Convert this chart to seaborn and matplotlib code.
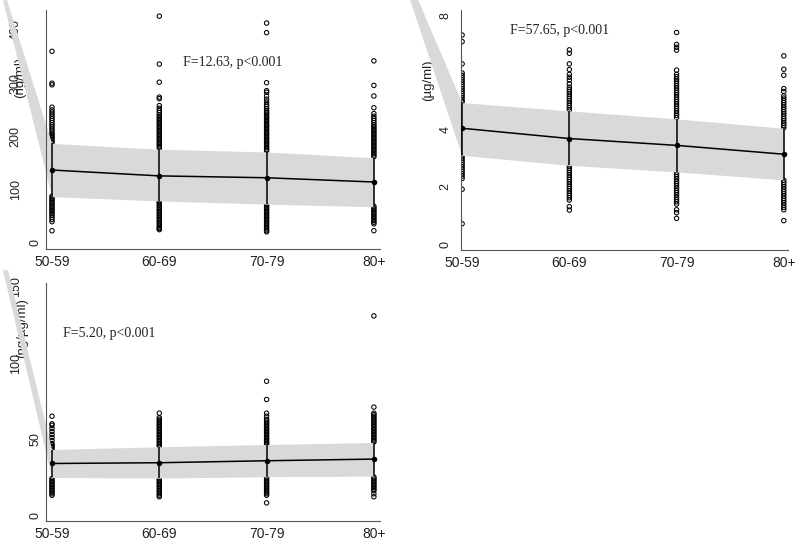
import numpy as np
import pandas as pd
import matplotlib
matplotlib.use("Agg")
import matplotlib.pyplot as plt
import seaborn as sns
from matplotlib.patches import Polygon
from matplotlib.transforms import ScaledTranslation

sns.set_theme(style="white")
plt.rcParams["font.family"] = ["Liberation Sans", "DejaVu Sans"]

age_groups = ["50-59", "60-69", "70-79", "80+"]

# panel 1: (ng/ml)
p1_mean = [137, 126, 122.5, 114.5]
p1_upper = [187, 176, 171, 160]
p1_lower = [87, 79, 73, 68]
p1_pts_5059 = [360, 300, 297, 255, 250, 246, 242, 238, 234, 230, 226, 222, 218, 214, 210, 206,
               203, 200, 197, 194, 191, 188, 88, 85, 82, 79, 76, 73, 70, 67, 64, 61, 58, 55,
               52, 48, 44, 40, 23]
p1_pts_6069 = [426, 336, 302, 274, 271, 258, 253, 249, 245, 241, 238, 235, 232, 229, 226, 223,
               220, 217, 214, 211, 208, 205, 202, 199, 196, 193, 190, 187, 184, 181, 178, 80,
               77, 74, 71, 68, 65, 62, 59, 56, 53, 50, 47, 44, 41, 38, 35, 32, 29, 27, 25]
p1_pts_7079 = [413, 395, 301, 286, 283, 276, 270, 265, 260, 256, 252, 248, 245, 242, 239, 236,
               233, 230, 227, 224, 221, 218, 215, 212, 209, 206, 203, 200, 197, 194, 191, 188,
               185, 182, 179, 176, 173, 74, 71, 68, 65, 62, 59, 56, 53, 50, 47, 44, 41, 38,
               35, 32, 29, 26, 23, 21]
p1_pts_80 = [342, 296, 276, 254, 243, 238, 234, 230, 226, 222, 219, 216, 213, 210, 207, 204,
             201, 198, 195, 192, 189, 186, 183, 180, 177, 174, 171, 168, 165, 162, 69, 66, 63,
             60, 57, 54, 51, 48, 45, 42, 39, 36, 23]
p1_wedge_x = [-0.457, -0.42]
p1_wedge_y = 456
p1_yticks = [0, 100, 200, 300, 400]

# panel 2: (µg/ml)
p2_mean = [4.06, 3.70, 3.46, 3.15]
p2_upper = [4.96, 4.67, 4.39, 4.06]
p2_lower = [3.11, 2.76, 2.53, 2.25]
p2_pts_5059 = [7.33, 7.1, 6.32, 6.0, 5.92, 5.84, 5.76, 5.68, 5.6, 5.52, 5.44, 5.36, 5.28, 5.2,
               5.12, 5.04, 4.98, 3.1, 3.02, 2.94, 2.86, 2.78, 2.7, 2.62, 2.54, 2.46, 2.38, 2.3,
               1.92, 0.71]
p2_pts_6069 = [6.81, 6.69, 6.32, 6.12, 5.95, 5.85, 5.75, 5.62, 5.5, 5.42, 5.34, 5.26, 5.18, 5.1,
               5.02, 4.94, 4.86, 4.78, 4.7, 2.74, 2.66, 2.58, 2.5, 2.42, 2.34, 2.26, 2.18, 2.1,
               2.02, 1.94, 1.86, 1.78, 1.7, 1.62, 1.54, 1.31, 1.19]
p2_pts_7079 = [7.42, 7.0, 6.9, 6.8, 6.1, 5.95, 5.87, 5.79, 5.71, 5.63, 5.55, 5.47, 5.39, 5.31,
               5.23, 5.15, 5.07, 4.99, 4.91, 4.83, 4.75, 4.67, 4.59, 4.51, 4.43, 2.52, 2.44,
               2.36, 2.28, 2.2, 2.12, 2.04, 1.96, 1.88, 1.8, 1.72, 1.64, 1.56, 1.48, 1.4, 1.2,
               1.1, 0.9]
p2_pts_80 = [6.6, 6.13, 5.92, 5.45, 5.35, 5.2, 5.12, 5.04, 4.96, 4.88, 4.8, 4.72, 4.64, 4.56,
             4.48, 4.4, 4.32, 4.24, 4.16, 4.08, 2.24, 2.16, 2.08, 2.0, 1.92, 1.84, 1.76, 1.68,
             1.6, 1.52, 1.44, 1.36, 1.28, 1.2, 0.82]
p2_wedge_x = [-0.485, -0.41]
p2_wedge_y = 8.56
p2_yticks = [0, 2, 4, 6, 8]

# panel 3: (ng/µg/ml)
p3_mean = [33.9, 34.4, 35.7, 36.8]
p3_upper = [43.1, 44.9, 46.4, 47.7]
p3_lower = [24.7, 24.3, 25.2, 25.6]
p3_pts_5059 = [65, 60, 59, 57, 55, 53, 51, 49, 47, 46, 45, 44, 43, 24, 23, 22, 21, 20, 19, 18,
               17, 16, 15, 14, 13]
p3_pts_6069 = [67, 64, 63, 62, 61, 60, 59, 58, 57, 56, 55, 54, 53, 52, 51, 50, 49, 48, 47, 46,
               45, 24, 23, 22, 21, 20, 19, 18, 17, 16, 15, 14, 13, 12]
p3_pts_7079 = [88, 76, 67, 65, 63, 62, 61, 60, 59, 58, 57, 56, 55, 54, 53, 52, 51, 50, 49, 48,
               47, 46, 25, 24, 23, 22, 21, 20, 19, 18, 17, 16, 15, 14, 13, 8]
p3_pts_80 = [131, 71, 67, 66, 65, 64, 63, 62, 61, 60, 59, 58, 57, 56, 55, 54, 53, 52, 51, 50,
             49, 48, 25, 24, 23, 22, 21, 20, 19, 18, 17, 16, 14, 12]
p3_wedge_x = [-0.457, -0.41]
p3_wedge_y = 161
p3_yticks = [0, 50, 100, 150]

BAND = "#d9d9d9"
AXIS = "#555555"


def draw_panel(ax, pts, mean, upper, lower, wedge_x, wedge_y, yticks, ylim, xlim,
               ylabel, label_xy, note, note_xy, short_pad, long_shift):
    x = np.arange(len(age_groups))
    df = pd.DataFrame({
        "group": np.repeat(x, [len(p) for p in pts]),
        "value": np.concatenate(pts),
    })
    sns.scatterplot(data=df, x="group", y="value", ax=ax, marker="o", s=10,
                    facecolor="none", edgecolor="black", linewidth=0.75,
                    zorder=1, legend=False)
    ax.fill_between(x, lower, upper, color=BAND, lw=0, zorder=2)
    # stray grey sliver running off the top-left, as in the source figure
    wedge = Polygon([(wedge_x[0], wedge_y), (wedge_x[1], wedge_y),
                     (x[0], upper[0]), (x[0], lower[0])],
                    closed=True, color=BAND, lw=0, zorder=2, clip_on=False)
    ax.add_patch(wedge)
    ax.vlines(x, lower, upper, color="black", lw=1.1, zorder=3)
    sns.lineplot(x=x, y=mean, ax=ax, color="black", linewidth=1.1, marker="o",
                 markersize=4, markeredgewidth=0, zorder=4)

    ax.set_xlim(*xlim)
    ax.set_ylim(*ylim)
    ax.set_xticks(x)
    ax.set_xticklabels(age_groups)
    ax.set_yticks(yticks)
    ax.set_yticklabels([str(t) for t in yticks])
    ax.set_xlabel("")
    ax.set_ylabel(ylabel, fontsize=9.5, color="#222222")
    ax.yaxis.set_label_coords(*label_xy)
    ax.yaxis.label.set_va("center")

    sns.despine(ax=ax)
    for side in ["left", "bottom"]:
        ax.spines[side].set_color(AXIS)
        ax.spines[side].set_linewidth(0.8)
    ax.grid(False)
    ax.tick_params(axis="both", direction="out", length=3, width=0.8, color=AXIS,
                   labelcolor="#222222")
    ax.tick_params(axis="x", pad=1.5, labelsize=10)
    ax.tick_params(axis="y", pad=short_pad, labelrotation=90, labelsize=9)
    fig = ax.figure
    for lbl in ax.get_yticklabels():
        lbl.set_ha("center")
        lbl.set_va("center")
        if len(lbl.get_text()) >= 3:
            lbl.set_transform(lbl.get_transform() +
                              ScaledTranslation(-long_shift, 0, fig.dpi_scale_trans))

    ax.text(note_xy[0], note_xy[1], note, transform=ax.transAxes, ha="left", va="center",
            fontsize=10, family=["Liberation Serif", "DejaVu Serif"], color="#222222")


fig = plt.figure(figsize=(8, 5.51), dpi=100)
fig.patch.set_facecolor("white")

ax1 = fig.add_axes([0.0575, 0.5481, 0.4175, 0.4338])
draw_panel(ax1, [p1_pts_5059, p1_pts_6069, p1_pts_7079, p1_pts_80],
           p1_mean, p1_upper, p1_lower, p1_wedge_x, p1_wedge_y, p1_yticks,
           (-11.3, 437.6), (-0.056, 3.057), "(ng/ml)", (-0.078, 0.72),
           "F=12.63, p<0.001", (0.41, 0.782), 4.5, 0.2)

ax2 = fig.add_axes([0.5763, 0.5463, 0.4088, 0.4356])
draw_panel(ax2, [p2_pts_5059, p2_pts_6069, p2_pts_7079, p2_pts_80],
           p2_mean, p2_upper, p2_lower, p2_wedge_x, p2_wedge_y, p2_yticks,
           (-0.21, 8.21), (-0.01, 3.04), "(µg/ml)", (-0.101, 0.708),
           "F=57.65, p<0.001", (0.15, 0.9125), 8, 0.2)

ax3 = fig.add_axes([0.0575, 0.0544, 0.4175, 0.4319])
draw_panel(ax3, [p3_pts_5059, p3_pts_6069, p3_pts_7079, p3_pts_80],
           p3_mean, p3_upper, p3_lower, p3_wedge_x, p3_wedge_y, p3_yticks,
           (-3.95, 152.6), (-0.056, 3.057), "(ng/µg/ml)", (-0.072, 0.81),
           "F=5.20, p<0.001", (0.051, 0.79), 4.5, 0.2)

fig.savefig("out.png", dpi=100, facecolor="white")
